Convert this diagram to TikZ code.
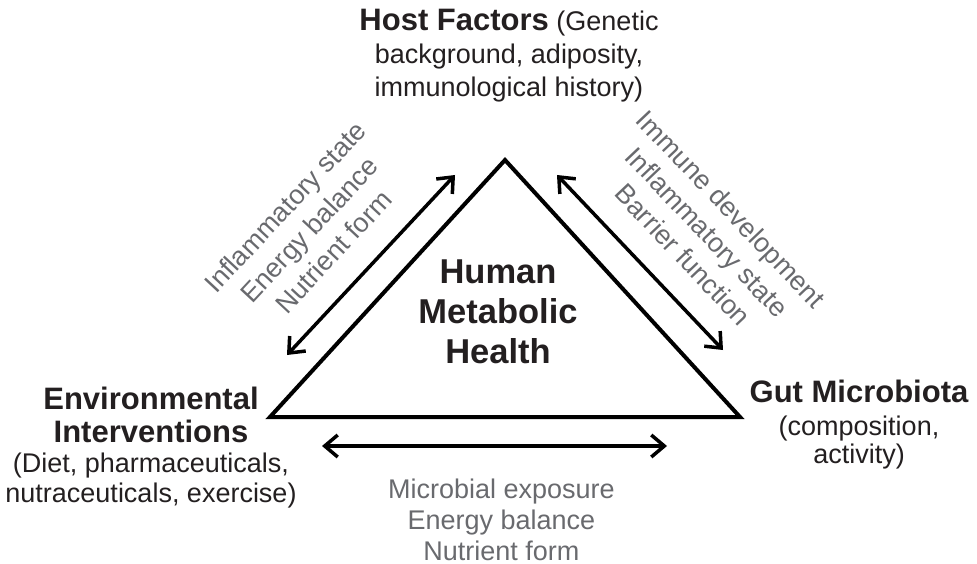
\documentclass[tikz,border=0pt]{standalone}
\usepackage{fontspec}
\setmainfont{Liberation Sans}
\usetikzlibrary{arrows.meta}
\definecolor{inkdark}{RGB}{35,31,32}
\definecolor{inkgray}{RGB}{105,106,110}
\newcommand{\factorname}[1]{{\bfseries\fontsize{31}{33}\selectfont #1}}

\begin{document}
\begin{tikzpicture}[x=1pt,y=-1pt,
    factor/.style={inner sep=0pt, align=center, text=inkdark, font=\fontsize{27}{30}\selectfont},
    effect/.style={inner sep=0pt, align=center, text=inkgray, font=\fontsize{27}{33}\selectfont},
    link/.style={line width=3.5pt, {Straight Barb[length=13pt,width=22pt]}-{Straight Barb[length=13pt,width=22pt]}}]
    \useasboundingbox (0,0) rectangle (977,564);
    % Triangulo central
    \coordinate (apex) at (505,160);
    \coordinate (envcorner) at (270,417);
    \coordinate (gutcorner) at (740,417);
    \draw[line width=4pt, line join=miter] (apex) -- (envcorner) -- (gutcorner) -- cycle;
    \node[inner sep=0pt, anchor=north, align=center, text=inkdark,
          font=\bfseries\fontsize{34.5}{40}\selectfont] (health) at (498,260) {Human\\Metabolic\\Health};

    % Factores en las esquinas
    \node[factor, anchor=north, font=\fontsize{27}{33}\selectfont] (host) at (509,8.5)
        {\factorname{Host Factors} (Genetic\\background, adiposity,\\immunological history)};
    \node[factor, anchor=north] (env) at (151,386.5)
        {\factorname{Environmental}\\[3pt]\factorname{Interventions}\\(Diet, pharmaceuticals,\\nutraceuticals, exercise)};
    \node[factor, anchor=north] (gut) at (859,379.5)
        {\factorname{Gut Microbiota}\\[3pt](composition,\\[-2pt]activity)};

    % Flechas entre factores
    \coordinate (envhostA) at (287,355);
    \coordinate (envhostB) at (455,175);
    \draw[link] (envhostA) -- (envhostB)
        node[effect, sloped, pos=0.435, above=25pt] (envhostlbl) {Inflammatory state\\Energy balance\\Nutrient form};
    \coordinate (hostgutA) at (557,175);
    \coordinate (hostgutB) at (723,350);
    \draw[link] (hostgutA) -- (hostgutB)
        node[effect, sloped, pos=0.6, above=25pt] (hostgutlbl) {Immune development\\Inflammatory state\\Barrier function};
    \coordinate (envgutA) at (322,446);
    \coordinate (envgutB) at (667,446);
    \draw[link] (envgutA) -- (envgutB)
        node[effect, pos=0.52, below=31pt, font=\fontsize{27}{31}\selectfont] (envgutlbl) {Microbial exposure\\Energy balance\\Nutrient form};
\end{tikzpicture}
\end{document}
